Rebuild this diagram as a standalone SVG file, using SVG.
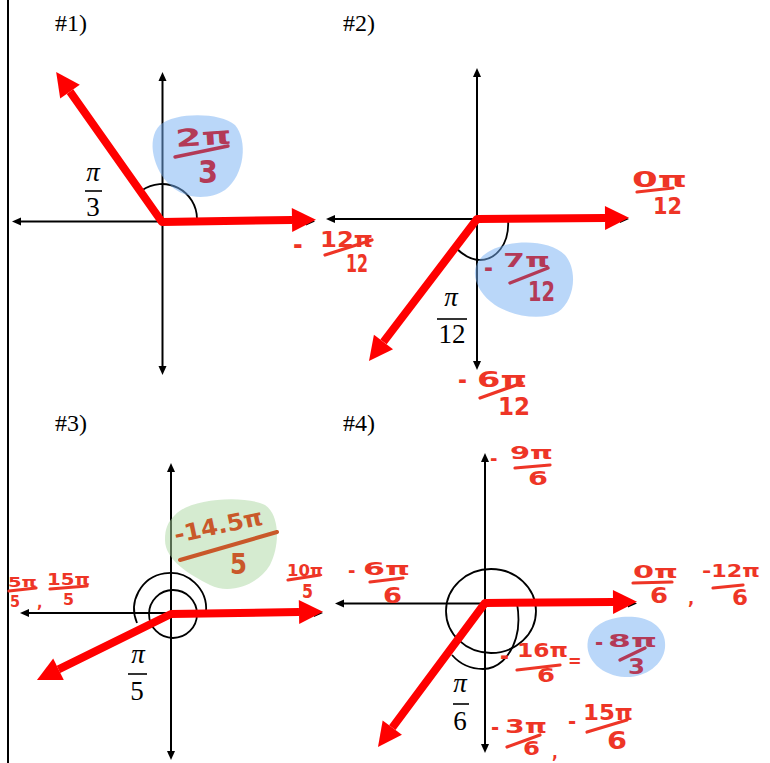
<svg xmlns="http://www.w3.org/2000/svg" width="770" height="763" viewBox="0 0 770 763">
<style>
.ax{stroke:#000;stroke-width:2;fill:none;marker-start:url(#ah);marker-end:url(#ah)}
.arc{stroke:#000;stroke-width:1.8;fill:none}
.vec{stroke:#ff0000;stroke-width:8;fill:none;stroke-linejoin:round;marker-start:url(#rh);marker-end:url(#rh)}
.ttl{font-family:"Liberation Serif","Times New Roman",serif;font-size:24px;fill:#000}
.mth{font-family:"Liberation Serif","Times New Roman",serif;font-size:27px;fill:#000;text-anchor:middle}
.pi{font-style:italic}
.bar{stroke:#000;stroke-width:1.6}
.hw{font-family:"DejaVu Sans Condensed","DejaVu Sans",sans-serif;font-weight:bold}
.r{fill:#ee3526}
.m{fill:#b33a57}
.b{fill:#c9582a}
.lr{stroke:#ee3526;stroke-width:3.2;stroke-linecap:round}
.lm{stroke:#b33a57;stroke-width:3.4;stroke-linecap:round}
.lb{stroke:#c9582a;stroke-width:4;stroke-linecap:round}
.blue{fill:#75aff3;opacity:0.5}
.green{fill:#abd7a1;opacity:0.5}
</style>
<defs>
<marker id="ah" markerUnits="userSpaceOnUse" markerWidth="12" markerHeight="10" refX="5" refY="0" viewBox="0 -5 10 10" orient="auto-start-reverse" overflow="visible"><path d="M0,-4 L9,0 L0,4 z" fill="#000"/></marker>
<marker id="rh" markerUnits="userSpaceOnUse" markerWidth="26" markerHeight="26" refX="0" refY="0" viewBox="0 -13 26 26" orient="auto-start-reverse" overflow="visible"><path d="M0,-12 L24,0 L0,12 z" fill="#ff0000"/></marker>
</defs>
<rect width="770" height="763" fill="#fff"/>
<line x1="8" y1="0" x2="8" y2="763" stroke="#000" stroke-width="2"/>

<g id="panel1">
<text class="ttl" x="55" y="31">#1)</text>
<g id="axes1"><line class="ax" x1="162.5" y1="76" x2="162.5" y2="371"/><line class="ax" x1="16" y1="221.5" x2="311" y2="221.5"/></g>
<path class="arc" d="M197,219 A35,35 0 0 0 141.7,190.5"/>
<path class="blue" d="M160,125 C175,112 220,112 235,125 C248,140 245,175 225,190 C210,200 185,200 170,185 C155,172 145,140 160,125 Z"/>
<g id="label1">
<text class="mth pi" x="93" y="181">π</text><line class="bar" x1="85" y1="191" x2="102" y2="191"/><text class="mth" x="93" y="216">3</text>
</g>
<g id="note1a"><text class="hw m" x="176" y="147" font-size="24" textLength="56" lengthAdjust="spacingAndGlyphs" transform="rotate(-4 176 147)">2π</text><line class="lm" x1="175" y1="157" x2="228" y2="146"/><text class="hw m" x="198" y="183" font-size="32" textLength="20" lengthAdjust="spacingAndGlyphs">3</text></g>
<g id="note1b"><text class="hw r" x="293" y="254" font-size="26">-<tspan x="320" y="247" font-size="22" textLength="53" lengthAdjust="spacingAndGlyphs">12π</tspan></text><line class="lr" x1="325" y1="255" x2="372" y2="240"/><text class="hw r" x="346" y="272" font-size="24" textLength="22" lengthAdjust="spacingAndGlyphs">12</text></g>
</g>

<g id="panel2">
<text class="ttl" x="343" y="31">#2)</text>
<g id="axes2"><line class="ax" x1="477" y1="72" x2="477" y2="366"/><line class="ax" x1="330" y1="219" x2="625" y2="219"/></g>
<path class="arc" d="M508,219 C510,245 495,260 480,260 C470,260 462,254 456,248"/>
<path class="blue" d="M478,262 C490,240 545,235 565,255 C578,270 575,300 558,312 C540,322 510,315 495,305 C478,293 470,275 478,262 Z"/>
<g id="label2">
<text class="mth pi" x="451" y="306">π</text><line class="bar" x1="437" y1="319" x2="467" y2="319"/><text class="mth" x="452" y="343">12</text>
</g>
<g id="note2a"><text class="hw m" x="484" y="276" font-size="24">-<tspan x="503" y="267" font-size="20" textLength="47" lengthAdjust="spacingAndGlyphs">7π</tspan></text><line class="lm" x1="510" y1="283" x2="548" y2="268"/><text class="hw m" x="528" y="301" font-size="26" textLength="27" lengthAdjust="spacingAndGlyphs">12</text></g>
<g id="note2b"><text class="hw r" x="632" y="187" font-size="22" textLength="55" lengthAdjust="spacingAndGlyphs">0π</text><line class="lr" x1="637" y1="192" x2="673" y2="188"/><text class="hw r" x="653" y="214" font-size="23" textLength="29" lengthAdjust="spacingAndGlyphs">12</text></g>
<g id="note2c"><text class="hw r" x="458" y="388" font-size="24">-<tspan x="477" y="387" font-size="21" textLength="50" lengthAdjust="spacingAndGlyphs">6π</tspan></text><line class="lr" x1="480" y1="398" x2="522" y2="383"/><text class="hw r" x="498" y="415" font-size="24" textLength="32" lengthAdjust="spacingAndGlyphs">12</text></g>
</g>

<g id="panel3">
<text class="ttl" x="55" y="431">#3)</text>
<g id="axes3"><line class="ax" x1="171" y1="467" x2="171" y2="756"/><line class="ax" x1="24" y1="613" x2="319" y2="613"/></g>
<circle class="arc" cx="173" cy="614" r="24"/>
<path class="arc" d="M137,623 A36,36 0 1 1 206,612"/>
<path class="green" d="M175,515 C190,498 245,495 265,505 C280,515 280,545 270,565 C258,585 230,595 210,585 C190,575 165,560 165,540 C165,528 168,522 175,515 Z"/>
<g id="label3">
<text class="mth pi" x="138" y="663">π</text><line class="bar" x1="128" y1="674" x2="147" y2="674"/><text class="mth" x="137" y="700">5</text>
</g>
<g id="note3a"><text class="hw b" x="176" y="543" font-size="23" textLength="90" lengthAdjust="spacingAndGlyphs" transform="rotate(-12 176 543)">-14.5π</text><line class="lb" x1="180" y1="560" x2="277" y2="532"/><text class="hw b" x="230" y="574" font-size="28" textLength="17" lengthAdjust="spacingAndGlyphs">5</text></g>
<g id="note3b"><text class="hw r" x="287" y="576" font-size="16" textLength="36" lengthAdjust="spacingAndGlyphs">10π</text><line class="lr" x1="288" y1="580" x2="320" y2="575"/><text class="hw r" x="302" y="598" font-size="20" textLength="11" lengthAdjust="spacingAndGlyphs">5</text></g>
<g id="note3c"><text class="hw r" x="8" y="587" font-size="14" textLength="29" lengthAdjust="spacingAndGlyphs">5π</text><line class="lr" x1="9" y1="591" x2="36" y2="588"/><text class="hw r" x="10" y="607" font-size="15" textLength="10" lengthAdjust="spacingAndGlyphs">5</text><text class="hw r" x="37" y="608" font-size="16">,</text><text class="hw r" x="47" y="585" font-size="15" textLength="43" lengthAdjust="spacingAndGlyphs">15π</text><line class="lr" x1="50" y1="589" x2="87" y2="586"/><text class="hw r" x="63" y="605" font-size="15" textLength="11" lengthAdjust="spacingAndGlyphs">5</text></g>
</g>

<g id="panel4">
<text class="ttl" x="343" y="431">#4)</text>
<g id="axes4"><line class="ax" x1="485" y1="457" x2="485" y2="749"/><line class="ax" x1="339" y1="603.5" x2="633" y2="603.5"/></g>
<ellipse class="arc" cx="491" cy="611" rx="45" ry="42"/>
<path class="arc" d="M517,603 C519,615 519,628 516,638 C510,658 497,669 483,669 C470,669 459,663 452,655"/>
<path class="blue" d="M588,640 C592,622 615,615 635,617 C655,619 667,632 665,648 C663,665 645,678 625,677 C603,676 584,660 588,640 Z"/>
<g id="label4">
<text class="mth pi" x="460" y="692">π</text><line class="bar" x1="453" y1="704" x2="469" y2="704"/><text class="mth" x="460" y="730">6</text>
</g>
<g id="note4a"><text class="hw r" x="490" y="465" font-size="20">-<tspan x="510" y="459" font-size="17" textLength="43" lengthAdjust="spacingAndGlyphs">9π</tspan></text><line class="lr" x1="515" y1="468" x2="550" y2="465"/><text class="hw r" x="528" y="485" font-size="20" textLength="20" lengthAdjust="spacingAndGlyphs">6</text></g>
<g id="note4b"><text class="hw r" x="348" y="577" font-size="20">-<tspan x="363" y="575" font-size="17" textLength="47" lengthAdjust="spacingAndGlyphs">6π</tspan></text><line class="lr" x1="370" y1="582" x2="403" y2="578"/><text class="hw r" x="383" y="603" font-size="22" textLength="19" lengthAdjust="spacingAndGlyphs">6</text></g>
<g id="note4c"><text class="hw r" x="633" y="578" font-size="18" textLength="45" lengthAdjust="spacingAndGlyphs">0π</text><line class="lr" x1="633" y1="583" x2="672" y2="582"/><text class="hw r" x="650" y="603" font-size="22" textLength="18" lengthAdjust="spacingAndGlyphs">6</text><text class="hw r" x="688" y="604" font-size="18">,</text><text class="hw r" x="702" y="577" font-size="18" textLength="58" lengthAdjust="spacingAndGlyphs">-12π</text><line class="lr" x1="713" y1="588" x2="743" y2="585"/><text class="hw r" x="732" y="605" font-size="22" textLength="16" lengthAdjust="spacingAndGlyphs">6</text></g>
<g id="note4d"><text class="hw r" x="500" y="664" font-size="24">-<tspan x="517" y="657" font-size="20" textLength="51" lengthAdjust="spacingAndGlyphs">16π</tspan></text><line class="lr" x1="517" y1="670" x2="560" y2="665"/><text class="hw r" x="537" y="682" font-size="20" textLength="18" lengthAdjust="spacingAndGlyphs">6</text><text class="hw r" x="568" y="667" font-size="18">=</text></g>
<g id="note4e"><text class="hw m" x="595" y="650" font-size="22">-<tspan x="608" y="647" font-size="18" textLength="49" lengthAdjust="spacingAndGlyphs">8π</tspan></text><line class="lm" x1="620" y1="660" x2="645" y2="648"/><text class="hw m" x="628" y="674" font-size="21" textLength="17" lengthAdjust="spacingAndGlyphs">3</text></g>
<g id="note4f"><text class="hw r" x="491" y="735" font-size="22">-<tspan x="505" y="733" font-size="19" textLength="42" lengthAdjust="spacingAndGlyphs">3π</tspan></text><line class="lr" x1="507" y1="747" x2="540" y2="735"/><text class="hw r" x="523" y="755" font-size="20" textLength="17" lengthAdjust="spacingAndGlyphs">6</text><text class="hw r" x="552" y="758" font-size="17">,</text></g>
<g id="note4g"><text class="hw r" x="568" y="729" font-size="22">-<tspan x="583" y="720" font-size="21" textLength="50" lengthAdjust="spacingAndGlyphs">15π</tspan></text><line class="lr" x1="587" y1="732" x2="627" y2="720"/><text class="hw r" x="607" y="749" font-size="24" textLength="20" lengthAdjust="spacingAndGlyphs">6</text></g>
</g>

<g id="connectors">
<path id="vec1" class="vec" d="M70,91.6 L162,222 L292,220"/>
<path id="vec2" class="vec" d="M383.5,341.9 L477,219 L605,218"/>
<path id="vec3" class="vec" d="M58.5,669.3 L171,614 L299,612"/>
<path id="vec4" class="vec" d="M392.3,727.7 L485,603 L613,602"/>
</g>
</svg>
